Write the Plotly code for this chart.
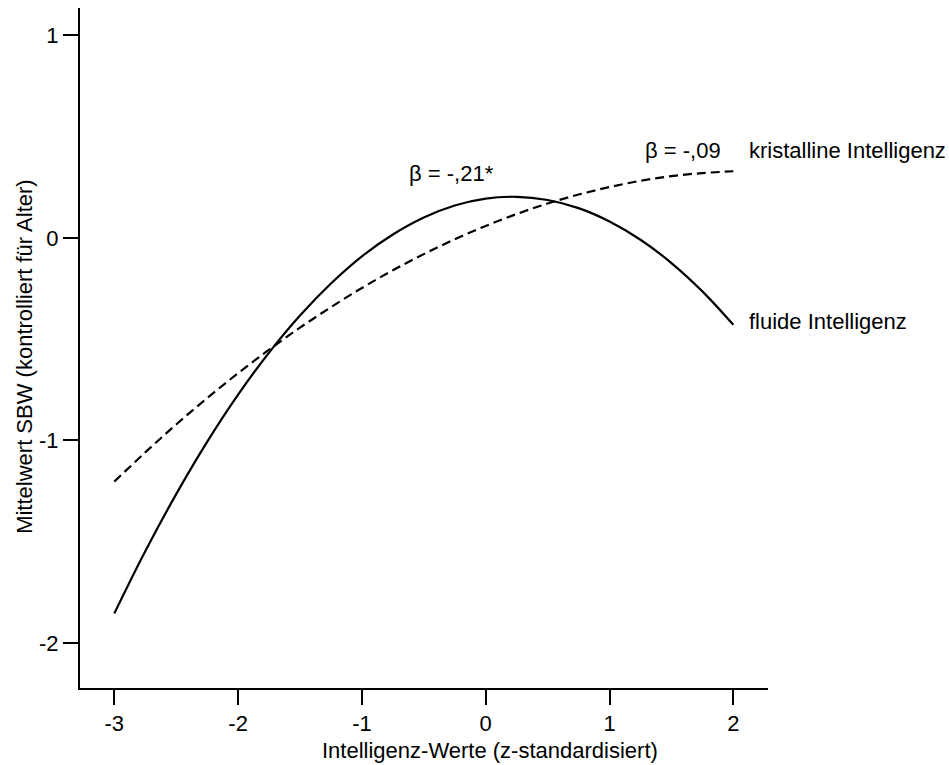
import plotly.graph_objects as go

# Data
x_vals = [-3.0, -2.75, -2.5, -2.25, -2.0, -1.75, -1.5, -1.25, -1.0, -0.75, -0.5,
          -0.25, 0.0, 0.25, 0.5, 0.75, 1.0, 1.25, 1.5, 1.75, 2.0]
fluide = [-1.854, -1.547, -1.265, -1.007, -0.774, -0.566, -0.383, -0.225, -0.091, 0.017, 0.101,
          0.160, 0.194, 0.203, 0.187, 0.147, 0.081, -0.009, -0.124, -0.264, -0.429]
kristallin = [-1.203, -1.059, -0.921, -0.791, -0.668, -0.552, -0.443, -0.342, -0.247, -0.160, -0.080,
              -0.007, 0.059, 0.118, 0.170, 0.214, 0.251, 0.282, 0.305, 0.320, 0.329]

x_ticks = [-3, -2, -1, 0, 1, 2]
y_ticks = [-2, -1, 0, 1]

x_title = "Intelligenz-Werte (z-standardisiert)"
y_title = "Mittelwert SBW (kontrolliert für Alter)"

FONT = "Liberation Sans, Arial, sans-serif"
FS = 22
TFONT = dict(family=FONT, size=FS, color="black")

fig = go.Figure()
fig.add_trace(go.Scatter(x=x_vals, y=fluide, mode="lines", line=dict(color="black", width=2.2, shape="spline"),
                         name="fluide Intelligenz", showlegend=False))
fig.add_trace(go.Scatter(x=x_vals, y=kristallin, mode="lines",
                         line=dict(color="black", width=2.2, dash="9px,5px", shape="spline"),
                         name="kristalline Intelligenz", showlegend=False))

fig.add_annotation(x=-0.28, y=0.318, xref="x", yref="y", text="β = -,21*", showarrow=False,
                   xanchor="center", yanchor="middle", font=TFONT)
fig.add_annotation(x=1.595, y=0.43, xref="x", yref="y", text="β = -,09", showarrow=False,
                   xanchor="center", yanchor="middle", font=TFONT)
fig.add_annotation(x=2.11, y=0.43, xref="x", yref="y", text="kristalline Intelligenz", showarrow=False,
                   xanchor="left", yanchor="middle", font=TFONT)
fig.add_annotation(x=2.11, y=-0.415, xref="x", yref="y", text="fluide Intelligenz", showarrow=False,
                   xanchor="left", yanchor="middle", font=TFONT)

# Axis titles (positioned as in the reference)
fig.add_annotation(x=0.596, y=-0.0912, xref="paper", yref="paper", text=x_title, showarrow=False,
                   xanchor="center", yanchor="middle", font=TFONT)
fig.add_annotation(x=-0.0799, y=0.487, xref="paper", yref="paper", text=y_title, showarrow=False,
                   textangle=-90, xanchor="center", yanchor="middle", font=TFONT)

axis_common = dict(showline=True, linecolor="black", linewidth=2, ticks="outside", ticklen=15,
                   tickwidth=2, tickcolor="black", showgrid=False, zeroline=False,
                   tickfont=TFONT, automargin=False)

fig.update_xaxes(range=[-3.277, 2.28], tickvals=x_ticks, ticktext=[str(v) for v in x_ticks], **axis_common)
fig.update_yaxes(range=[-2.222, 1.135], tickvals=y_ticks, ticktext=[str(v) for v in y_ticks], **axis_common)

fig.update_layout(width=949, height=765, margin=dict(l=80, r=181, t=8, b=77),
                  plot_bgcolor="white", paper_bgcolor="white", font=TFONT)

fig.write_html("out.html")
